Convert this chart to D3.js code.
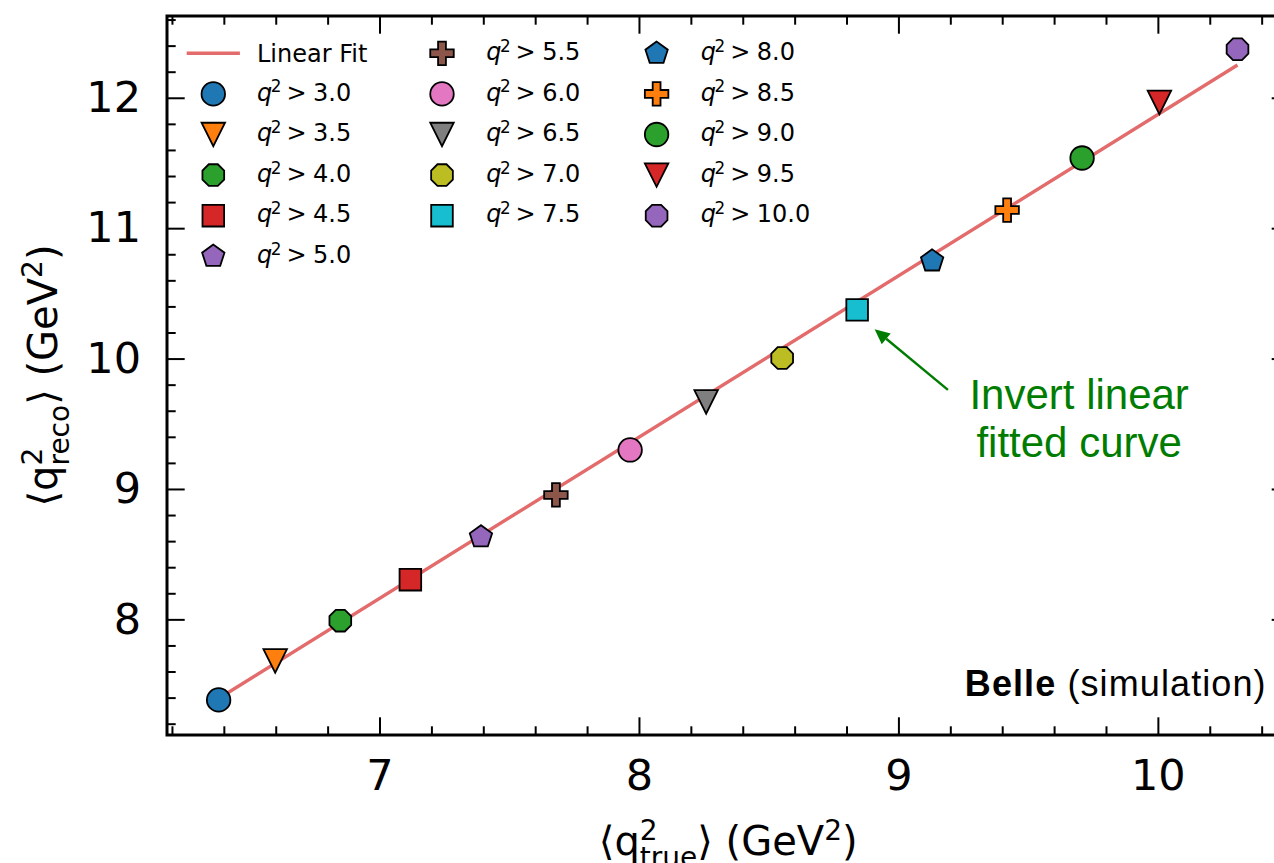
<!DOCTYPE html>
<html>
<head>
<meta charset="utf-8">
<script src="https://cdn.jsdelivr.net/npm/d3@7"></script>
<style>
  body { margin: 0; background: #ffffff; }
  svg { display: block; }
</style>
</head>
<body>
<svg id="chart" width="1274" height="863"></svg>
<script>
// ---------------- data ----------------
const cutLabels = ["3.0", "3.5", "4.0", "4.5", "5.0", "5.5", "6.0", "6.5", "7.0", "7.5", "8.0", "8.5", "9.0", "9.5", "10.0"];
const trueMean = [6.378, 6.596, 6.847, 7.117, 7.389, 7.678, 7.964, 8.257, 8.550, 8.839, 9.128, 9.417, 9.706, 10.004, 10.305];
const recoMean = [7.386, 7.685, 7.994, 8.308, 8.636, 8.958, 9.303, 9.671, 10.008, 10.377, 10.752, 11.143, 11.542, 11.968, 12.376];
const fitTrue = [6.378, 10.305];
const fitReco = [7.397, 12.255];
const xTickValues = [7, 8, 9, 10];
const yTickValues = [8, 9, 10, 11, 12];
const xDomain = [6.179, 10.505];
const yDomain = [7.117, 12.631];

// ---------------- styles ----------------
const markerColors = ["#1f77b4", "#ff7f0e", "#2ca02c", "#d62728", "#9467bd", "#8c564b", "#e377c2",
                      "#7f7f7f", "#bcbd22", "#17becf", "#1f77b4", "#ff7f0e", "#2ca02c", "#d62728", "#9467bd"];
const markerShapes = ["circle", "triDown", "octagon", "square", "pentagon", "plus",
                      "circle", "triDown", "octagon", "square", "pentagon", "plus",
                      "circle", "triDown", "octagon"];
const fitColor = "#e36b6b";
const annColor = "#007d00";

// ---------------- layout ----------------
const W = 1274, H = 863;
const plot = { left: 167, right: 1289.4, top: 16, bottom: 735 };
const MS = 23.5;          // marker size (px)
const majorLen = 17.7, minorLen = 8.7;

const svg = d3.select("#chart");
svg.append("rect").attr("width", W).attr("height", H).attr("fill", "#fff");

const x = d3.scaleLinear().domain(xDomain).range([plot.left, plot.right]);
const y = d3.scaleLinear().domain(yDomain).range([plot.bottom, plot.top]);

// ---------------- custom marker types ----------------
function poly(ctx, pts) {
  ctx.moveTo(pts[0][0], pts[0][1]);
  for (let i = 1; i < pts.length; i++) ctx.lineTo(pts[i][0], pts[i][1]);
  ctx.closePath();
}
function regular(n, r, startDeg) {
  const pts = [];
  for (let k = 0; k < n; k++) {
    const a = (startDeg + k * 360 / n) * Math.PI / 180;
    pts.push([r * Math.cos(a), -r * Math.sin(a)]);
  }
  return pts;
}
const symbolTypes = {
  circle: { draw(ctx, size) { const r = Math.sqrt(size) / 2; ctx.moveTo(r, 0); ctx.arc(0, 0, r, 0, 2 * Math.PI); } },
  triDown: { draw(ctx, size) { const h = Math.sqrt(size) / 2; poly(ctx, [[-h, -h], [h, -h], [0, h]]); } },
  square: { draw(ctx, size) { const a = Math.sqrt(size) * 0.92; ctx.rect(-a / 2, -a / 2, a, a); } },
  octagon: { draw(ctx, size) { poly(ctx, regular(8, Math.sqrt(size) / 2, 112.5)); } },
  pentagon: { draw(ctx, size) { poly(ctx, regular(5, Math.sqrt(size) / 2, 90)); } },
  plus: { draw(ctx, size) {
    const s = Math.sqrt(size) / 6;
    const p = [[-1, -3], [1, -3], [1, -1], [3, -1], [3, 1], [1, 1], [1, 3], [-1, 3], [-1, 1], [-3, 1], [-3, -1], [-1, -1]];
    poly(ctx, p.map(([a, b]) => [a * s, b * s]));
  } }
};
const symbolPath = shape => d3.symbol().type(symbolTypes[shape]).size(MS * MS)();

// ---------------- ticks ----------------
const minorX = d3.range(31, 53).map(v => v / 5).filter(v => !Number.isInteger(v));
const minorY = d3.range(36, 64).map(v => v / 5).filter(v => !Number.isInteger(v));

const tickFont = "DejaVu Sans";
function styleAxis(g) {
  g.select(".domain").remove();
  g.selectAll(".tick line").attr("stroke", "#000").attr("stroke-width", 2);
  g.selectAll(".tick text").attr("font-family", tickFont).attr("font-size", 43).attr("fill", "#000");
}
// bottom
svg.append("g").attr("transform", `translate(0,${plot.bottom})`)
  .call(d3.axisBottom(x).tickValues(xTickValues).tickSize(-majorLen).tickPadding(24.5).tickFormat(d3.format("d")).offset(0))
  .call(styleAxis);
svg.append("g").attr("transform", `translate(0,${plot.bottom})`)
  .call(d3.axisBottom(x).tickValues(minorX).tickSize(-minorLen).tickFormat("").offset(0))
  .call(styleAxis);
// top
svg.append("g").attr("transform", `translate(0,${plot.top})`)
  .call(d3.axisTop(x).tickValues(xTickValues).tickSize(-majorLen).tickFormat("").offset(0))
  .call(styleAxis);
svg.append("g").attr("transform", `translate(0,${plot.top})`)
  .call(d3.axisTop(x).tickValues(minorX).tickSize(-minorLen).tickFormat("").offset(0))
  .call(styleAxis);
// left
svg.append("g").attr("transform", `translate(${plot.left},0)`)
  .call(d3.axisLeft(y).tickValues(yTickValues).tickSize(-majorLen).tickPadding(26).tickFormat(d3.format("d")).offset(0))
  .call(styleAxis);
svg.append("g").attr("transform", `translate(${plot.left},0)`)
  .call(d3.axisLeft(y).tickValues(minorY).tickSize(-minorLen).tickFormat("").offset(0))
  .call(styleAxis);
// right
svg.append("g").attr("transform", `translate(${plot.right},0)`)
  .call(d3.axisRight(y).tickValues(yTickValues).tickSize(-majorLen).tickFormat("").offset(0))
  .call(styleAxis);
svg.append("g").attr("transform", `translate(${plot.right},0)`)
  .call(d3.axisRight(y).tickValues(minorY).tickSize(-minorLen).tickFormat("").offset(0))
  .call(styleAxis);

// spines
svg.append("rect")
  .attr("x", plot.left).attr("y", plot.top)
  .attr("width", plot.right - plot.left).attr("height", plot.bottom - plot.top)
  .attr("fill", "none").attr("stroke", "#000").attr("stroke-width", 3);

// ---------------- fit line ----------------
svg.append("path")
  .datum(fitTrue.map((t, i) => [t, fitReco[i]]))
  .attr("d", d3.line().x(d => x(d[0])).y(d => y(d[1])))
  .attr("fill", "none").attr("stroke", fitColor).attr("stroke-width", 3.4);

// ---------------- markers ----------------
svg.append("g").selectAll("path")
  .data(trueMean.map((t, i) => ({ t, r: recoMean[i], i })))
  .join("path")
  .attr("transform", d => `translate(${x(d.t)},${y(d.r)})`)
  .attr("d", d => symbolPath(markerShapes[d.i]))
  .attr("fill", d => markerColors[d.i])
  .attr("stroke", "#000").attr("stroke-width", 1.8).attr("stroke-linejoin", "miter");

// ---------------- legend ----------------
const legend = { rowY0: 53.3, rowDy: 40.6, handleX: [213.3, 442, 656.6], textX: [257, 486.2, 700.8] };
const entries = [{ type: "line", label: "Linear Fit" }].concat(cutLabels.map((c, i) => ({ type: "marker", cut: c, i })));
const perCol = [6, 5, 5];
let idx = 0;
const lg = svg.append("g").attr("font-family", "DejaVu Sans").attr("font-size", 24).attr("fill", "#000");
perCol.forEach((n, col) => {
  for (let row = 0; row < n; row++, idx++) {
    const e = entries[idx];
    const cy = legend.rowY0 + row * legend.rowDy;
    const hx = legend.handleX[col];
    if (e.type === "line") {
      lg.append("line").attr("x1", hx - 26.6).attr("x2", hx + 26.6).attr("y1", cy).attr("y2", cy)
        .attr("stroke", fitColor).attr("stroke-width", 3.4);
      lg.append("text").attr("x", legend.textX[col]).attr("y", cy + 9).text(e.label);
    } else {
      lg.append("path").attr("transform", `translate(${hx},${cy})`)
        .attr("d", symbolPath(markerShapes[e.i]))
        .attr("fill", markerColors[e.i]).attr("stroke", "#000").attr("stroke-width", 1.8);
      const t = lg.append("text").attr("x", legend.textX[col]).attr("y", cy + 6.7);
      t.append("tspan").attr("font-style", "italic").text("q");
      t.append("tspan").attr("font-size", 16.8).attr("dx", -1.5).attr("dy", -8.3).text("2");
      t.append("tspan").attr("dx", 5).attr("dy", 8.3).text(">");
      t.append("tspan").attr("dx", 6.5).text(e.cut);
    }
  }
});

// ---------------- axis labels ----------------
function mathLabel(parent, parts, fs) {
  const inner = parent.append("g");
  let cx = 0;
  parts.forEach(p => {
    if (p.t !== undefined) {
      const t = inner.append("text").attr("x", cx).attr("y", 0).attr("font-size", fs).text(p.t);
      cx += t.node().getComputedTextLength();
    } else {
      const s = fs * 0.7;
      let w = 0;
      if (p.sup) {
        const t = inner.append("text").attr("x", cx).attr("y", -0.375 * fs).attr("font-size", s).text(p.sup);
        w = Math.max(w, t.node().getComputedTextLength());
      }
      if (p.sub) {
        const t = inner.append("text").attr("x", cx).attr("y", 0.3 * fs).attr("font-size", s).text(p.sub);
        w = Math.max(w, t.node().getComputedTextLength());
      }
      cx += w;
    }
  });
  inner.attr("transform", `translate(${-cx / 2},0)`);
}
const labFs = 40;
const xl = svg.append("g").attr("font-family", "DejaVu Sans").attr("fill", "#000")
  .attr("transform", `translate(${(plot.left + plot.right) / 2},855)`);
mathLabel(xl, [{ t: "\u27E8q" }, { sup: "2", sub: "true" }, { t: "\u27E9\u00A0(GeV" }, { sup: "2" }, { t: ")" }], labFs);
const yl = svg.append("g").attr("font-family", "DejaVu Sans").attr("fill", "#000")
  .attr("transform", `translate(57,${(plot.top + plot.bottom) / 2}) rotate(-90)`);
mathLabel(yl, [{ t: "\u27E8q" }, { sup: "2", sub: "reco" }, { t: "\u27E9\u00A0(GeV" }, { sup: "2" }, { t: ")" }], labFs);

// ---------------- Belle tag ----------------
const belle = svg.append("text").attr("x", 1266.7).attr("y", 696).attr("text-anchor", "end")
  .attr("font-family", "Liberation Sans, Arial, sans-serif").attr("font-size", 36)
  .attr("letter-spacing", 1.1).attr("fill", "#000");
belle.append("tspan").attr("font-weight", "bold").text("Belle");
belle.append("tspan").text("\u00A0(simulation)");

// ---------------- annotation ----------------
const target = 9; // q^2 > 7.5 point
const px = x(trueMean[target]), py = y(recoMean[target]);
const tip = [px + 17.5, py + 19.3];
const tail = [px + 90.8, py + 80];
const dxA = tip[0] - tail[0], dyA = tip[1] - tail[1];
const len = Math.hypot(dxA, dyA);
const ux = dxA / len, uy = dyA / len;
const headL = 15, headW = 7;
const base = [tip[0] - ux * headL, tip[1] - uy * headL];
svg.append("line").attr("x1", tail[0]).attr("y1", tail[1]).attr("x2", base[0]).attr("y2", base[1])
  .attr("stroke", annColor).attr("stroke-width", 2.4);
svg.append("path")
  .attr("d", d3.line()([tip, [base[0] - uy * headW, base[1] + ux * headW], [base[0] + uy * headW, base[1] - ux * headW]]) + "Z")
  .attr("fill", annColor);
const ann = svg.append("text").attr("text-anchor", "middle")
  .attr("font-family", "Liberation Sans, Arial, sans-serif").attr("font-size", 42).attr("fill", annColor);
ann.append("tspan").attr("x", px + 222).attr("y", py + 99.3).text("Invert linear");
ann.append("tspan").attr("x", px + 222).attr("y", py + 146.7).text("fitted curve");
</script>
</body>
</html>
